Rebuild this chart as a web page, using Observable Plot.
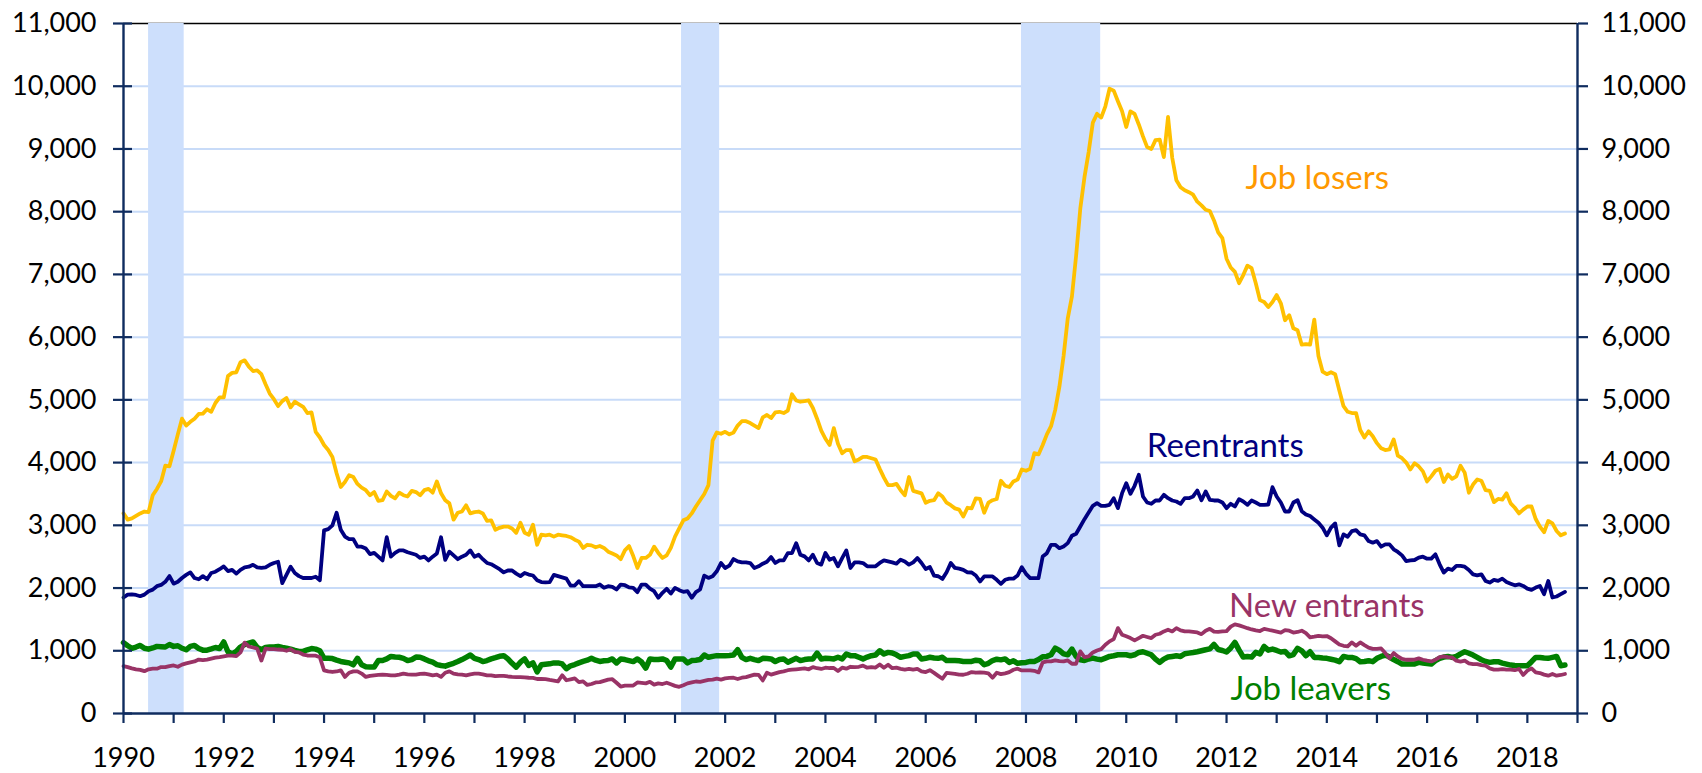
<!DOCTYPE html>
<html>
<head>
<meta charset="utf-8">
<script src="https://cdn.jsdelivr.net/npm/d3@7"></script>
<script src="https://cdn.jsdelivr.net/npm/@observablehq/plot@0.6"></script>
<style>
  html, body { margin: 0; padding: 0; background: #ffffff; }
  #chart svg { display: block; }
</style>
</head>
<body>
<div id="chart"></div>
<script>
// Monthly data, thousands, Jan 1990 .. Oct 2018
const startYear = 1990;

const jobLosers = [
  3190,3090,3110,3150,3190,3220,3210,3480,3580,3700,3950,3940,
  4190,4450,4700,4590,4650,4700,4775,4780,4850,4810,4950,5040,
  5040,5380,5430,5440,5600,5630,5530,5460,5470,5410,5250,5100,
  5010,4900,4980,5030,4880,4970,4930,4890,4790,4800,4490,4400,
  4280,4200,4090,3830,3610,3690,3800,3770,3660,3600,3560,3480,
  3530,3390,3400,3540,3470,3430,3520,3480,3460,3550,3530,3480,
  3560,3580,3520,3700,3510,3400,3350,3090,3200,3220,3320,3190,
  3210,3220,3190,3070,3080,2930,2960,2980,2980,2950,2880,3040,
  2880,2850,3010,2690,2850,2840,2850,2820,2850,2840,2830,2810,
  2770,2740,2640,2690,2680,2650,2670,2640,2580,2550,2520,2460,
  2600,2670,2510,2320,2480,2480,2530,2660,2560,2480,2520,2640,
  2820,2950,3080,3110,3190,3300,3400,3500,3640,4350,4480,4460,
  4490,4450,4480,4590,4660,4660,4630,4590,4550,4720,4760,4710,
  4800,4810,4790,4830,5090,4990,4970,4980,4990,4870,4700,4510,
  4380,4280,4550,4300,4150,4200,4200,4020,4050,4090,4090,4070,
  4050,3900,3760,3640,3640,3660,3560,3480,3770,3550,3530,3510,
  3360,3390,3400,3510,3460,3360,3320,3270,3250,3140,3280,3270,
  3430,3420,3200,3360,3400,3420,3710,3630,3610,3700,3730,3890,
  3870,3900,4150,4130,4280,4450,4580,4840,5210,5700,6300,6650,
  7300,8050,8550,8950,9420,9560,9500,9680,9960,9930,9760,9600,
  9350,9600,9560,9390,9200,9030,9000,9140,9150,8870,9510,8860,
  8500,8390,8340,8310,8270,8160,8100,8030,8010,7860,7670,7580,
  7250,7110,7040,6860,6990,7140,7100,6860,6590,6560,6480,6560,
  6670,6540,6270,6350,6140,6110,5880,5890,5880,6280,5700,5450,
  5410,5440,5410,5150,4900,4810,4790,4790,4520,4400,4500,4420,
  4310,4230,4200,4210,4370,4110,4070,4000,3890,3990,3940,3860,
  3700,3780,3870,3900,3690,3810,3740,3780,3950,3840,3520,3650,
  3730,3710,3560,3550,3370,3420,3410,3510,3350,3280,3190,3250,
  3300,3300,3100,2980,2890,3070,3030,2910,2840,2870
];

const reentrants = [
  1850,1895,1900,1890,1870,1895,1950,1975,2030,2050,2100,2190,
  2070,2100,2160,2210,2250,2160,2140,2190,2140,2240,2260,2300,
  2345,2270,2290,2230,2290,2330,2340,2370,2330,2320,2330,2370,
  2400,2420,2080,2210,2340,2240,2190,2160,2160,2160,2180,2125,
  2920,2940,3000,3200,2930,2820,2780,2780,2660,2660,2630,2540,
  2560,2500,2440,2810,2500,2560,2600,2600,2570,2550,2530,2480,
  2500,2440,2500,2550,2810,2450,2580,2520,2460,2500,2530,2600,
  2500,2530,2460,2400,2380,2340,2300,2250,2280,2280,2230,2190,
  2240,2215,2200,2125,2095,2090,2095,2210,2190,2170,2150,2040,
  2040,2110,2030,2030,2030,2030,2056,2003,2030,2020,1977,2056,
  2045,2010,2003,1934,2056,2056,1990,1950,1845,1924,1987,1913,
  2003,1966,1940,1950,1845,1934,1977,2198,2161,2188,2267,2399,
  2320,2357,2462,2425,2410,2410,2399,2320,2346,2388,2420,2494,
  2399,2441,2441,2557,2557,2716,2531,2505,2441,2531,2399,2373,
  2560,2452,2478,2346,2478,2600,2320,2410,2410,2399,2346,2346,
  2346,2400,2441,2425,2410,2388,2452,2425,2373,2410,2478,2399,
  2304,2336,2198,2188,2146,2251,2399,2320,2310,2290,2250,2248,
  2200,2105,2185,2185,2185,2132,2068,2132,2150,2150,2200,2333,
  2227,2158,2158,2158,2503,2556,2689,2689,2636,2663,2716,2833,
  2865,2981,3098,3204,3311,3353,3311,3311,3327,3433,3274,3513,
  3672,3502,3630,3805,3460,3364,3343,3396,3396,3486,3433,3396,
  3380,3343,3433,3433,3460,3555,3400,3540,3406,3396,3396,3364,
  3274,3343,3300,3417,3380,3327,3396,3364,3327,3327,3332,3608,
  3460,3364,3220,3220,3364,3400,3226,3173,3147,3094,3041,2962,
  2840,2962,3030,2680,2856,2818,2908,2924,2856,2840,2749,2723,
  2749,2659,2696,2696,2617,2575,2521,2431,2442,2447,2484,2500,
  2468,2468,2537,2378,2246,2309,2288,2352,2352,2340,2288,2219,
  2203,2219,2113,2087,2129,2113,2150,2097,2070,2044,2060,2034,
  1991,1970,2007,2034,1902,2113,1849,1865,1902,1939
];

const newEntrants = [
  755,740,720,703,695,675,705,714,714,740,740,755,
  766,745,780,800,815,830,860,850,860,875,890,900,
  912,922,922,915,974,1130,1068,1052,1036,844,1036,1026,
  1026,1020,1016,1000,1026,984,974,940,925,922,922,896,
  688,672,662,670,688,583,650,672,672,636,583,599,
  609,615,620,615,609,609,620,636,625,620,620,630,
  636,625,609,620,583,650,672,636,625,620,609,625,
  636,636,625,609,609,595,600,599,590,583,580,580,
  575,570,568,550,550,547,535,525,512,609,530,545,
  560,500,512,455,470,495,500,520,540,547,490,430,
  443,445,446,495,488,480,505,460,480,470,490,465,
  440,425,450,480,495,510,505,520,535,540,555,540,
  560,568,570,550,570,580,600,620,615,528,650,620,
  640,660,672,690,698,705,712,720,705,740,722,710,
  730,725,725,678,730,714,745,738,745,764,730,740,
  732,782,730,777,722,730,712,700,712,698,712,673,
  660,690,648,600,554,646,640,633,620,618,634,660,
  650,655,650,640,570,650,627,640,660,697,715,687,
  687,687,680,655,814,830,830,846,835,830,846,793,
  793,990,899,910,973,1005,1027,1096,1150,1186,1361,1255,
  1230,1202,1165,1202,1239,1220,1202,1255,1271,1308,1335,1308,
  1361,1324,1308,1308,1300,1292,1265,1320,1350,1305,1302,1308,
  1313,1385,1420,1405,1382,1360,1340,1324,1315,1350,1335,1320,
  1305,1290,1329,1320,1290,1300,1320,1280,1215,1225,1239,1228,
  1235,1200,1150,1100,1080,1069,1133,1080,1133,1090,1050,1030,
  1030,1037,963,879,963,910,870,857,857,860,879,857,
  842,830,857,900,910,900,894,842,826,842,800,788,
  788,772,762,720,700,698,709,698,698,690,709,614,
  683,720,656,645,620,603,630,603,614,630
];

const jobLeavers = [
  1130,1080,1040,1060,1085,1040,1026,1045,1070,1065,1060,1100,
  1070,1080,1040,1016,1070,1085,1036,1010,1010,1030,1052,1036,
  1140,984,948,990,1060,1100,1120,1140,1052,1016,1052,1062,
  1062,1068,1052,1040,1026,1005,990,990,1016,1036,1026,1000,
  880,880,875,850,830,818,807,776,880,776,745,740,
  740,844,844,870,910,900,896,880,844,860,900,896,
  870,840,818,780,766,755,780,800,828,860,896,932,
  880,860,828,844,870,890,912,922,870,800,740,818,
  870,766,807,662,776,785,792,807,807,790,714,760,
  780,807,830,850,880,850,830,840,844,870,807,870,
  860,844,828,870,820,724,870,862,860,870,844,740,
  870,870,870,807,844,850,860,932,896,910,922,922,
  922,925,932,1016,896,860,880,860,844,880,875,870,
  828,860,870,818,850,880,844,860,870,870,964,870,
  880,875,870,896,870,948,922,922,896,870,900,922,
  932,1000,948,974,964,935,896,910,922,948,948,870,
  880,896,885,880,896,844,844,844,840,830,830,830,
  850,840,777,800,844,865,855,870,814,840,800,810,
  814,830,830,860,905,910,936,1042,1005,950,936,1027,
  910,857,846,870,883,867,857,883,910,920,936,936,
  936,920,936,973,985,960,936,867,814,867,900,910,
  920,910,952,963,973,985,1000,1016,1030,1100,1020,1005,
  980,1045,1133,1010,900,910,900,974,950,1069,1010,1027,
  1005,980,990,920,940,1040,1000,921,984,894,894,885,
  879,865,850,826,910,894,894,875,826,830,842,826,
  880,910,931,900,860,826,788,788,788,788,815,804,
  795,788,842,879,900,910,894,910,950,984,960,931,
  894,857,830,815,826,826,804,788,772,765,762,762,
  762,826,894,894,885,879,894,910,762,772
];

// Recession periods (decimal years)
const recessionStart = [1990.5, 2001.13, 2007.91];
const recessionEnd   = [1991.21, 2001.89, 2009.49];

// Tick values
const yTicks = [0,1000,2000,3000,4000,5000,6000,7000,8000,9000,10000,11000];
const xTicks = [1990,1991,1992,1993,1994,1995,1996,1997,1998,1999,2000,2001,2002,2003,2004,
                2005,2006,2007,2008,2009,2010,2011,2012,2013,2014,2015,2016,2017,2018,2019];
const xLabelYears = [1990,1992,1994,1996,1998,2000,2002,2004,2006,2008,2010,2012,2014,2016,2018];

const recessions = recessionStart.map((s, i) => ({start: s, end: recessionEnd[i]}));
const monthX = (d, i) => startYear + i / 12;
const fmt = d3.format(",");
const axisColor = "#0f2c5f";
const gridColor = "#c8dbf8";
const bandColor = "#cddffc";

const chart = Plot.plot({
  width: 1702,
  height: 773,
  marginLeft: 123,
  marginRight: 125,
  marginTop: 23,
  marginBottom: 60,
  x: {type: "linear", domain: [1990, 2019]},
  y: {type: "linear", domain: [0, 11000]},
  style: {fontFamily: "Lato, 'Open Sans', sans-serif", fontSize: "27px", color: "#000", background: "#fff", overflow: "visible"},
  marks: [
    Plot.gridY(yTicks.filter(d => d > 0 && d < 11000), {stroke: gridColor, strokeOpacity: 1, strokeWidth: 2}),
    Plot.ruleY([11000], {stroke: "#000", strokeWidth: 1.6}),
    Plot.rect(recessions, {x1: "start", x2: "end", y1: 0, y2: 11000, fill: bandColor}),
    Plot.line(jobLeavers, {x: monthX, y: d => d, stroke: "#008000", strokeWidth: 5.5, strokeLinejoin: "round", strokeLinecap: "round"}),
    Plot.line(newEntrants, {x: monthX, y: d => d, stroke: "#993366", strokeWidth: 3.8, strokeLinejoin: "round", strokeLinecap: "round"}),
    Plot.line(reentrants, {x: monthX, y: d => d, stroke: "#000080", strokeWidth: 3.8, strokeLinejoin: "round", strokeLinecap: "round"}),
    Plot.line(jobLosers, {x: monthX, y: d => d, stroke: "#FFC000", strokeWidth: 3.8, strokeLinejoin: "round", strokeLinecap: "round"}),
    Plot.ruleX([1990], {stroke: axisColor, strokeWidth: 2.4}),
    Plot.ruleX([2019], {stroke: axisColor, strokeWidth: 2.4}),
    Plot.ruleY([0], {stroke: axisColor, strokeWidth: 2.4}),
    Plot.axisY({anchor: "left", ticks: yTicks, tickSize: 19, dx: 9, tickFormat: () => "", stroke: axisColor, strokeWidth: 2.2, label: null}),
    Plot.axisY({anchor: "left", ticks: yTicks, tickSize: 0, tickPadding: 27, tickFormat: fmt, fill: "#000", label: null}),
    Plot.axisY({anchor: "right", ticks: yTicks, tickSize: 10, tickPadding: 14, tickFormat: fmt, stroke: axisColor, strokeWidth: 2.2, fill: "#000", label: null}),
    Plot.axisX({ticks: xTicks, tickSize: 10, tickPadding: 24, tickFormat: d => xLabelYears.includes(d) ? String(d) : "",
                stroke: axisColor, strokeWidth: 2.2, fill: "#000", label: null}),
    Plot.text(["Job losers"], {x: 2012.38, y: 8524, text: d => d, fill: "#FF9900", fontSize: 33, textAnchor: "start", lineAnchor: "middle"}),
    Plot.text(["Reentrants"], {x: 2010.41, y: 4264, text: d => d, fill: "#000080", fontSize: 33, textAnchor: "start", lineAnchor: "middle"}),
    Plot.text(["New entrants"], {x: 2012.05, y: 1709, text: d => d, fill: "#993366", fontSize: 33, textAnchor: "start", lineAnchor: "middle"}),
    Plot.text(["Job leavers"], {x: 2012.08, y: 387, text: d => d, fill: "#008000", fontSize: 33, textAnchor: "start", lineAnchor: "middle"})
  ]
});

document.getElementById("chart").appendChild(chart);
</script>
</body>
</html>
